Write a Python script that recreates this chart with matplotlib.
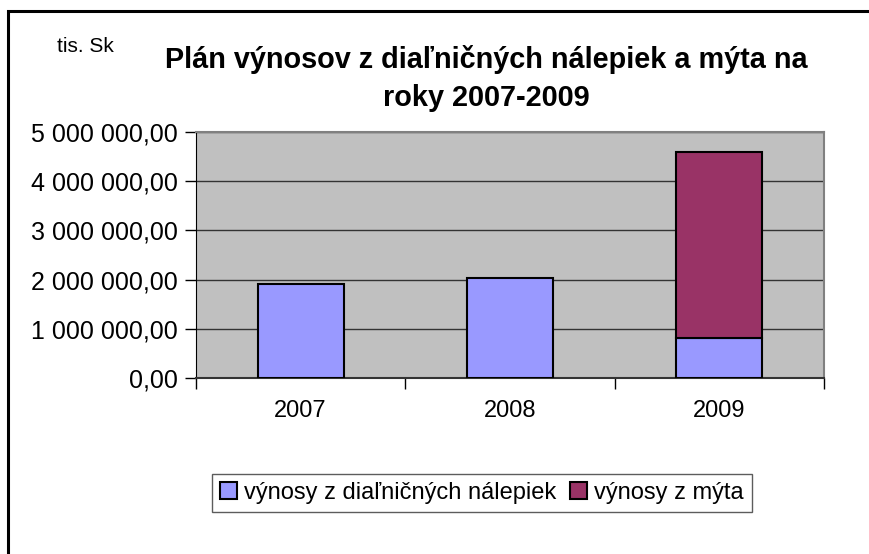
import matplotlib.pyplot as plt
from matplotlib.patches import Rectangle
from matplotlib.ticker import FuncFormatter

# Plan of revenues (tis. Sk)
years = ["2007", "2008", "2009"]
nalepky = [1910000, 2030000, 820000]   # vignette revenues
myto = [0, 0, 3780000]                 # toll revenues
labels = ["výnosy z diaľničných nálepiek", "výnosy z mýta"]

plt.rcParams['font.family'] = ['Liberation Sans', 'DejaVu Sans']

fig = plt.figure(figsize=(8.7, 5.54), dpi=100)
ax = fig.add_axes([196/870, 1-378/554, (824-196)/870, (378-132)/554])

x = range(len(years))
b1 = ax.bar(x, nalepky, width=0.41, color="#9999FF", edgecolor="black", linewidth=1.5, zorder=3)
b2 = ax.bar([i for i in x if myto[i] > 0], [m for m in myto if m > 0],
            bottom=[n for n, m in zip(nalepky, myto) if m > 0],
            width=0.41, color="#993366", edgecolor="black", linewidth=1.5, zorder=3)

ax.set_facecolor("#C0C0C0")
ax.set_xlim(-0.5, 2.5)
ax.set_ylim(0, 5000000)
ax.set_yticks(range(0, 5000001, 1000000))
ax.yaxis.set_major_formatter(FuncFormatter(lambda v, p: "{:,.2f}".format(v).replace(",", " ").replace(".", ",")))
ax.grid(axis="y", color="#333333", linewidth=1, zorder=1)

ax.set_xticks(x)
ax.set_xticklabels(years)
ax.set_xticks([-0.5, 0.5, 1.5, 2.5], minor=True)
ax.tick_params(axis="x", which="major", length=0, pad=16, labelsize=17)
ax.tick_params(axis="x", which="minor", length=8, width=1, color="black", direction="out")
ax.tick_params(axis="y", length=8, width=1, color="black", direction="out", pad=5, labelsize=18)

for side in ["top", "right"]:
    ax.spines[side].set_color("#808080")
    ax.spines[side].set_linewidth(1.5)
ax.spines["left"].set_color("black")
ax.spines["bottom"].set_color("#333333")
ax.spines["bottom"].set_linewidth(1.5)

fig.text(486/870, 1-59/554, "Plán výnosov z diaľničných nálepiek a mýta na",
         ha="center", va="center", fontsize=20.8, fontweight="bold")
fig.text(486/870, 1-98/554, "roky 2007-2009",
         ha="center", va="center", fontsize=20.8, fontweight="bold")
fig.text(57/870, 1-47/554, "tis. Sk", ha="left", va="center", fontsize=15)

leg = fig.legend([b1, b2], labels, loc="center", bbox_to_anchor=(482/870, 1-493/554),
                 ncol=2, fontsize=17, frameon=True, fancybox=False, edgecolor="#333333",
                 handlelength=0.7, handleheight=0.7, handletextpad=0.3, columnspacing=0.6,
                 borderpad=0.35)
leg.get_frame().set_linewidth(1)

# outer chart frame (only left and top visible)
fig.patches.append(Rectangle((8/870, -0.1), 1.2, 1-11/554+0.1, transform=fig.transFigure,
                             fill=False, edgecolor="black", linewidth=2.2))

fig.savefig("out.png", dpi=100)
